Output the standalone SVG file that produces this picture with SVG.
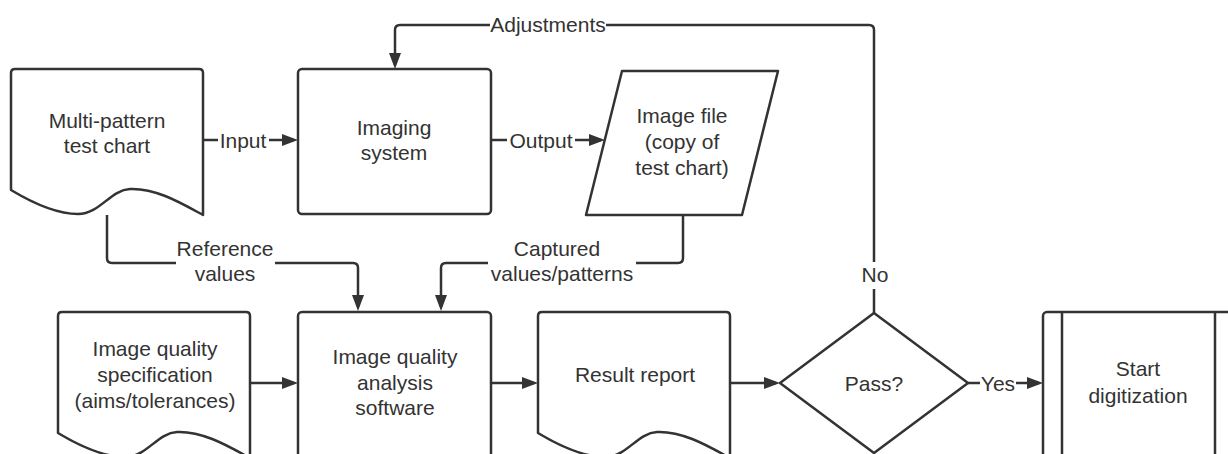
<svg xmlns="http://www.w3.org/2000/svg" width="1228" height="454" viewBox="0 0 1228 454">
<style>
.s{fill:#fff;stroke:#333;stroke-width:2.5;stroke-linejoin:round}
.c{fill:none;stroke:#333;stroke-width:2.5}
text{font-family:"Liberation Sans",Arial,sans-serif;font-size:21px;fill:#333;text-anchor:middle;dominant-baseline:central}
.bg{fill:#fff}
</style>
<defs>
<marker id="ah" markerUnits="userSpaceOnUse" markerWidth="16" markerHeight="14" viewBox="0 0 16 14" refX="12" refY="7" orient="auto">
<path d="M0,1 L16,7 L0,13 Z" fill="#333"/>
</marker>
<path id="doc" d="M0,4 Q0,0 4,0 L188,0 Q192,0 192,4 L192,146 C170,134 145,119 119,120 C99,121 89,145 67,145 C47,145 25,136 0,121 Z"/>
</defs>
<rect width="1228" height="454" fill="#fff"/>

<g id="connectors">
<path class="c" d="M203,140 H294" marker-end="url(#ah)"/>
<rect class="bg" x="218" y="128" width="51" height="24"/>
<text x="243" y="140">Input</text>

<path class="c" d="M491,140 H601" marker-end="url(#ah)"/>
<rect class="bg" x="507" y="128" width="68" height="24"/>
<text x="541" y="140">Output</text>

<path class="c" d="M107,215 V258 Q107,263 112,263 H353 Q358,263 358,268 V307" marker-end="url(#ah)"/>
<rect class="bg" x="176" y="235" width="99" height="52"/>
<text x="225" y="248">Reference</text>
<text x="225" y="273">values</text>

<path class="c" d="M683,215 V258 Q683,263 678,263 H446 Q441,263 441,268 V307" marker-end="url(#ah)"/>
<rect class="bg" x="488" y="235" width="148" height="52"/>
<text x="557" y="248">Captured</text>
<text x="562" y="273">values/patterns</text>

<path class="c" d="M250,383 H294" marker-end="url(#ah)"/>
<path class="c" d="M491,383 H534" marker-end="url(#ah)"/>
<path class="c" d="M730,383 H776" marker-end="url(#ah)"/>

<path class="c" d="M968,383 H1039" marker-end="url(#ah)"/>
<rect class="bg" x="980" y="371" width="36" height="24"/>
<text x="998" y="383">Yes</text>

<path class="c" d="M874,313 V30 Q874,25 869,25 H400 Q395,25 395,30 V65" marker-end="url(#ah)"/>
<rect class="bg" x="862" y="262" width="26" height="27"/>
<text x="875" y="274">No</text>
<rect class="bg" x="490" y="13" width="116" height="24"/>
<text x="548" y="24">Adjustments</text>
</g>

<g id="test-chart">
<use href="#doc" class="s" transform="translate(11,69)"/>
<text x="107" y="120">Multi-pattern</text>
<text x="107" y="145">test chart</text>
</g>

<g id="imaging-system">
<rect class="s" x="298" y="69" width="193" height="145" rx="4"/>
<text x="394" y="127">Imaging</text>
<text x="394" y="152">system</text>
</g>

<g id="image-file">
<polygon class="s" points="622,71 778,71 742,215 586,215"/>
<text x="682" y="115">Image file</text>
<text x="682" y="141">(copy of</text>
<text x="682" y="167">test chart)</text>
</g>

<g id="iq-spec">
<use href="#doc" class="s" transform="translate(58,312)"/>
<text x="155" y="348">Image quality</text>
<text x="155" y="374">specification</text>
<text x="155" y="400">(aims/tolerances)</text>
</g>

<g id="iq-software">
<rect class="s" x="298" y="312" width="193" height="160" rx="4"/>
<text x="395" y="356">Image quality</text>
<text x="395" y="382">analysis</text>
<text x="395" y="407">software</text>
</g>

<g id="result-report">
<use href="#doc" class="s" transform="translate(538,312)"/>
<text x="635" y="374">Result report</text>
</g>

<g id="pass">
<polygon class="s" points="780,383 874,313 968,383 874,453"/>
<text x="874" y="383">Pass?</text>
</g>

<g id="start-digitization">
<rect class="s" x="1043" y="312" width="192" height="160" rx="4"/>
<line class="c" x1="1062" y1="312" x2="1062" y2="472"/>
<line class="c" x1="1215" y1="312" x2="1215" y2="472"/>
<text x="1138" y="368">Start</text>
<text x="1138" y="395">digitization</text>
</g>
</svg>
